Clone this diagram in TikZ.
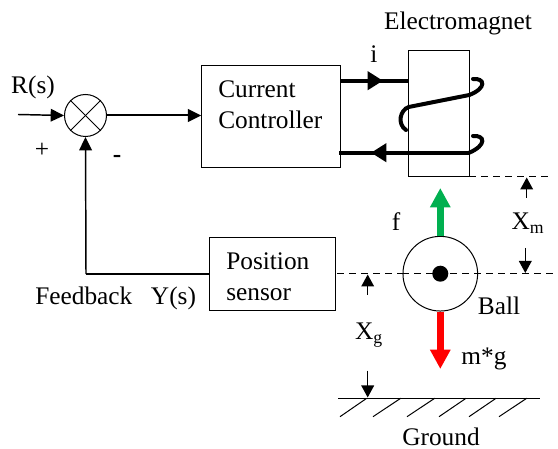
\documentclass[tikz,border=0pt]{standalone}
\usepackage{fontspec}
\setmainfont{Liberation Serif}
\usepackage{xcolor}
\usetikzlibrary{arrows.meta, positioning}
\definecolor{forcegreen}{RGB}{0,176,80}
\tikzstyle{block} = [rectangle, draw=black, line width=0.75pt, minimum width=104pt, minimum height=77pt, inner sep=0pt]
\tikzstyle{sensorblock} = [rectangle, draw=black, line width=0.75pt, minimum width=95pt, minimum height=55pt, inner sep=0pt]
\tikzstyle{magnetblock} = [rectangle, draw=black, line width=0.6pt, minimum width=45.5pt, minimum height=95pt, inner sep=0pt]
\tikzstyle{summer} = [circle, draw=black, line width=0.75pt, minimum size=31.5pt, inner sep=0pt]
\tikzstyle{ballshape} = [circle, draw=black, line width=0.75pt, minimum size=56pt, inner sep=0pt]
\tikzstyle{textlabel} = [inner sep=0pt, font=\fontsize{19}{23}\selectfont]
\tikzstyle{arrow} = [line width=1.5pt,-{Triangle[width=9.5pt,length=10pt]}]
\tikzstyle{sumcross} = [line width=0.75pt]
\tikzstyle{wire} = [line width=3pt]
\tikzstyle{wirearrow} = [line width=3pt,-{Triangle[width=13.5pt,length=11.5pt]}]
\tikzstyle{coil} = [line width=3pt, line cap=round]
\tikzstyle{gaparrow} = [line width=1pt,-{Triangle[width=9.5pt,length=9pt]}]
\tikzstyle{levelline} = [line width=0.75pt, dash pattern=on 5pt off 4pt]
\tikzstyle{forcearrow} = [line width=4.8pt,-{Triangle[width=14.5pt,length=14.5pt]}]
\tikzstyle{hatch} = [line width=0.75pt]
\begin{document}
\begin{tikzpicture}[x=0.75pt,y=-0.75pt]
	\useasboundingbox (0,0) rectangle (558,449);

	\node (sum_point) [summer] at (85.5,115.5) {};
	\node (current_ctrl) [block] at (271,116.5) {};
	\node (ctrl_text) [textlabel, align=left, anchor=west] at (218,104.5) {Current\\Controller};
	\node (magnet) [magnetblock] at (439,113.5) {};
	\node (position_sensor) [sensorblock] at (272.5,274) {};
	\node (sensor_text) [textlabel, align=left, anchor=west] at (226,276.5) {Position\\sensor};
	\node (ball) [ballshape] at (440.3,273.7) {};
	\fill (ball) circle (6pt);

	\draw [sumcross] (sum_point.north west) -- (sum_point.south east);
	\draw [sumcross] (sum_point.north east) -- (sum_point.south west);

	\coordinate (r_in) at (18,114.5);
	\coordinate (wire_in) at (341,80.7);
	\coordinate (wire_in_mid) at (383,80.7);
	\coordinate (wire_in_end) at (408.7,80.7);
	\coordinate (wire_out) at (469.3,152.7);
	\coordinate (wire_out_mid) at (371,152.7);
	\coordinate (wire_out_end) at (339,152.7);
	\coordinate (feedback_corner) at (86,274);
	\coordinate (gap_top) at (469.3,176.7);
	\coordinate (gap_top_end) at (553,176.7);
	\coordinate (axis_left) at (337,273.7);
	\coordinate (axis_right) at (558,273.7);
	\coordinate (ground_left) at (338,398.3);
	\coordinate (ground_right) at (540,398.3);
	\coordinate (green_tip) at (440.3,188);
	\coordinate (red_tip) at (440.3,369);

	\draw [arrow, line width=1.1pt] (r_in) -- (sum_point.west);
	\draw [arrow] (sum_point.east) -- (sum_point.east -| current_ctrl.west);
	\draw [line width=0.9pt] (position_sensor.west) -- (feedback_corner);
	\draw [arrow, line width=1.1pt] (feedback_corner) -- (sum_point.south);

	\draw [wire] (wire_in) -- (wire_in_end);
	\draw [wirearrow] (wire_in) -- (wire_in_mid);
	\draw [wire] (wire_out) -- (wire_out_end);
	\draw [wirearrow] (wire_out) -- (wire_out_mid);

	\draw [coil] (473,79) .. controls (485,78) and (487,88) .. (469.3,95) -- (408.7,107) .. controls (400,110) and (397,124) .. (406,130);
	\draw [coil] (473,136) .. controls (485,135) and (487,145) .. (wire_out);

	\draw [levelline] (gap_top) -- (gap_top_end);
	\draw [levelline] (axis_left) -- (ball.west);
	\draw [levelline] (ball.west) -- (axis_right);

	\draw [forcearrow, draw=forcegreen, fill=forcegreen] (ball.north) -- (green_tip);
	\draw [forcearrow, draw=red, fill=red] (ball.south) -- (red_tip);

	\draw [line width=1pt] (ground_left) -- (ground_right);
	\foreach \xa/\xb in {366.7/340,400.7/373,434.7/407,466/439,496/469,526.7/499}
		\draw [hatch] (\xa,398.3) -- (\xb,416.7);

	\draw [gaparrow] (526.7,198) -- (526.7,177.5);
	\draw [gaparrow] (525.3,248) -- (525.3,273);
	\draw [gaparrow] (367.7,295) -- (367.7,274.5);
	\draw [gaparrow] (367.7,370.7) -- (367.7,397.5);

	\node (r_label) [textlabel] at (33,87) {R(s)};
	\node (plus_label) [textlabel] at (42,150) {+};
	\node (minus_label) [textlabel] at (117,159) {\textbf{-}};
	\node (i_label) [textlabel] at (374,54) {i};
	\node (magnet_label) [textlabel] at (458,23) {Electromagnet};
	\node (f_label) [textlabel] at (396,222) {f};
	\node (xm_label) [textlabel] at (528,223) {X\textsubscript{m}};
	\node (feedback_label) [textlabel, anchor=west] at (35,298) {Feedback\hspace{14pt}Y(s)};
	\node (ball_label) [textlabel] at (499,306) {Ball};
	\node (xg_label) [textlabel] at (369,335) {X\textsubscript{g}};
	\node (mg_label) [textlabel] at (484,359) {m*g};
	\node (ground_label) [textlabel] at (441,437) {Ground};
\end{tikzpicture}
\end{document}
